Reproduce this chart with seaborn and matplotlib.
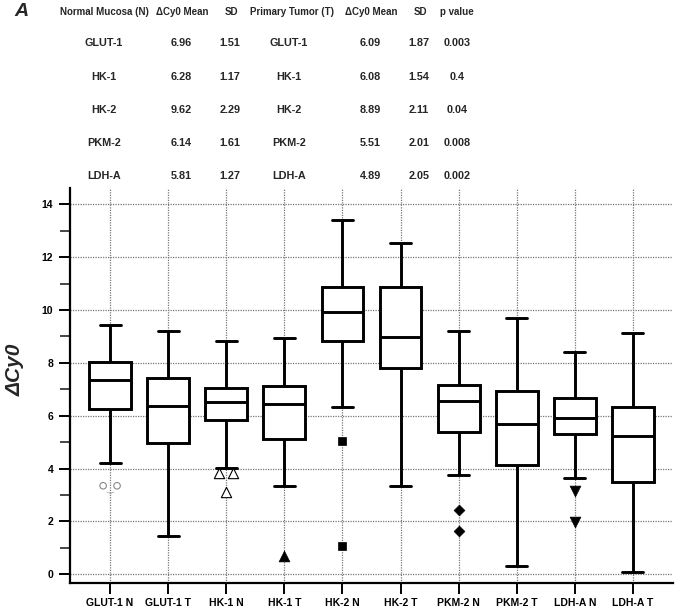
import numpy as np
import pandas as pd
import matplotlib
matplotlib.use("Agg")
import matplotlib.pyplot as plt
import seaborn as sns
from matplotlib.ticker import MultipleLocator

# ---- box plot data (five-number summaries) ----
groups = ["GLUT-1 N", "GLUT-1 T", "HK-1 N", "HK-1 T", "HK-2 N",
          "HK-2 T", "PKM-2 N", "PKM-2 T", "LDH-A N", "LDH-A T"]
whisker_low = [4.22, 1.45, 4.03, 3.34, 6.32, 3.34, 3.74, 0.33, 3.63, 0.10]
q1 = [6.24, 4.96, 5.84, 5.13, 8.82, 7.81, 5.37, 4.15, 5.31, 3.48]
median = [7.34, 6.38, 6.53, 6.44, 9.91, 8.98, 6.55, 5.69, 5.93, 5.23]
q3 = [8.02, 7.42, 7.05, 7.11, 10.86, 10.86, 7.17, 6.92, 6.66, 6.32]
whisker_high = [9.42, 9.22, 8.82, 8.93, 13.42, 12.52, 9.22, 9.71, 8.41, 9.13]

outlier_group = ["GLUT-1 N", "GLUT-1 N", "GLUT-1 N", "HK-1 N", "HK-1 N", "HK-1 N",
                 "HK-1 T", "HK-2 N", "HK-2 N", "PKM-2 N", "PKM-2 N",
                 "LDH-A N", "LDH-A N"]
outlier_value = [3.35, 3.35, 3.12, 3.82, 3.82, 3.10, 0.70, 5.04, 1.06,
                 2.42, 1.65, 3.16, 1.97]

# ---- table data ----
genes = ["GLUT-1", "HK-1", "HK-2", "PKM-2", "LDH-A"]
normal_mean = ["6.96", "6.28", "9.62", "6.14", "5.81"]
normal_sd = ["1.51", "1.17", "2.29", "1.61", "1.27"]
tumor_mean = ["6.09", "6.08", "8.89", "5.51", "4.89"]
tumor_sd = ["1.87", "1.54", "2.11", "2.01", "2.05"]
p_values = ["0.003", "0.4", "0.04", "0.008", "0.002"]
headers = ["Normal Mucosa (N)", "\u0394Cy0 Mean", "SD", "Primary Tumor (T)",
           "\u0394Cy0 Mean", "SD", "p value"]

# ---- styles ----
sns.set_theme(style="white")
FONT = ["Liberation Sans", "DejaVu Sans"]
plt.rcParams["font.family"] = FONT

marker_style = {
    "GLUT-1 N": dict(marker="o", s=22, facecolor="none", edgecolor="#888888", linewidth=0.8),
    "HK-1 N": dict(marker="^", s=55, facecolor="white", edgecolor="black", linewidth=0.8),
    "HK-1 T": dict(marker="^", s=60, facecolor="black", edgecolor="black", linewidth=0.5),
    "HK-2 N": dict(marker="s", s=30, facecolor="black", edgecolor="black", linewidth=0.5),
    "PKM-2 N": dict(marker="D", s=30, facecolor="black", edgecolor="black", linewidth=0.5),
    "LDH-A N": dict(marker="v", s=60, facecolor="black", edgecolor="black", linewidth=0.5),
}

W, H = 685, 609
fig = plt.figure(figsize=(W / 100, H / 100), dpi=100)
ax = fig.add_axes([70 / W, 1 - 583 / H, (673 - 70) / W, (583 - 188) / H])

rows = []
for g, a, b, c, d, e in zip(groups, whisker_low, q1, median, q3, whisker_high):
    for v in (a, b, c, d, e):
        rows.append({"group": g, "value": v})
df = pd.DataFrame(rows)

sns.boxplot(data=df, x="group", y="value", order=groups, whis=np.inf,
            width=0.72, color="white", linecolor="black", linewidth=2.1,
            ax=ax, zorder=3)

# outliers
out = pd.DataFrame({"group": outlier_group, "value": outlier_value})
for g, sub in out.groupby("group", sort=False):
    xi = groups.index(g)
    vals = sub["value"].tolist()
    xs = []
    for i, v in enumerate(vals):
        n = vals.count(v)
        if n > 1:
            k = [j for j, w in enumerate(vals) if w == v].index(i)
            xs.append(xi + (k - (n - 1) / 2) * 0.24)
        else:
            xs.append(xi)
    st = dict(marker_style[g])
    if g == "GLUT-1 N":
        single = [i for i, v in enumerate(vals) if vals.count(v) == 1]
        multi = [i for i in range(len(vals)) if i not in single]
        sns.scatterplot(x=[xs[i] for i in multi], y=[vals[i] for i in multi], ax=ax,
                        zorder=4, **st)
        ax.scatter([xs[i] for i in single], [vals[i] for i in single],
                   marker="$\\smile$", s=40, color="#888888", linewidths=0, zorder=4)
    else:
        sns.scatterplot(x=xs, y=vals, ax=ax, zorder=4, **st)

ax.set_xlim(-0.69, 9.69)
ax.set_ylim(-0.33, 14.62)
ax.yaxis.set_major_locator(MultipleLocator(2))
ax.yaxis.set_minor_locator(MultipleLocator(1))
ax.set_axisbelow(True)
ax.grid(True, axis="both", which="major", linestyle=(0, (1, 1)), color="#777777", linewidth=0.9)
ax.set_xlabel("")
ax.set_ylabel("")
for s in ("top", "right"):
    ax.spines[s].set_visible(False)
for s in ("left", "bottom"):
    ax.spines[s].set_linewidth(1.6)
    ax.spines[s].set_color("black")
ax.tick_params(axis="y", which="major", left=True, length=8, width=1.4, direction="out",
               pad=4, labelsize=7.5, colors="black")
ax.tick_params(axis="y", which="minor", left=True, length=7, width=1.2, direction="out")
ax.tick_params(axis="x", which="major", bottom=True, length=8, width=1.4, direction="out",
               pad=3, labelsize=7.5, colors="black")
for lab in ax.get_xticklabels() + ax.get_yticklabels():
    lab.set_fontweight("bold")

fig.text(15 / W, 1 - 370 / H, "\u0394Cy0", rotation=90, ha="center", va="center",
         fontsize=15, fontweight="bold", fontstyle="italic")

# ---- table ----
def px(x, y):
    return x / W, 1 - y / H

fig.text(*px(21, 12), "A", ha="center", va="center", fontsize=14,
         fontweight="bold", fontstyle="italic")
col_x = [104, 182, 231, 292, 371, 420, 457]
for cx, h in zip(col_x, headers):
    fig.text(*px(cx, 12), h, ha="center", va="center", fontsize=7.0, fontweight="bold")
row_y = [43, 77, 110, 143, 176]
for ry, gname, nm, ns, tm, ts, pv in zip(row_y, genes, normal_mean, normal_sd,
                                          tumor_mean, tumor_sd, p_values):
    for cx, t in zip([104, 181, 230, 289, 370, 419, 457], [gname, nm, ns, gname, tm, ts, pv]):
        fig.text(*px(cx, ry), t, ha="center", va="center", fontsize=7.8, fontweight="bold")

fig.savefig("out.png", dpi=100, facecolor="white")
